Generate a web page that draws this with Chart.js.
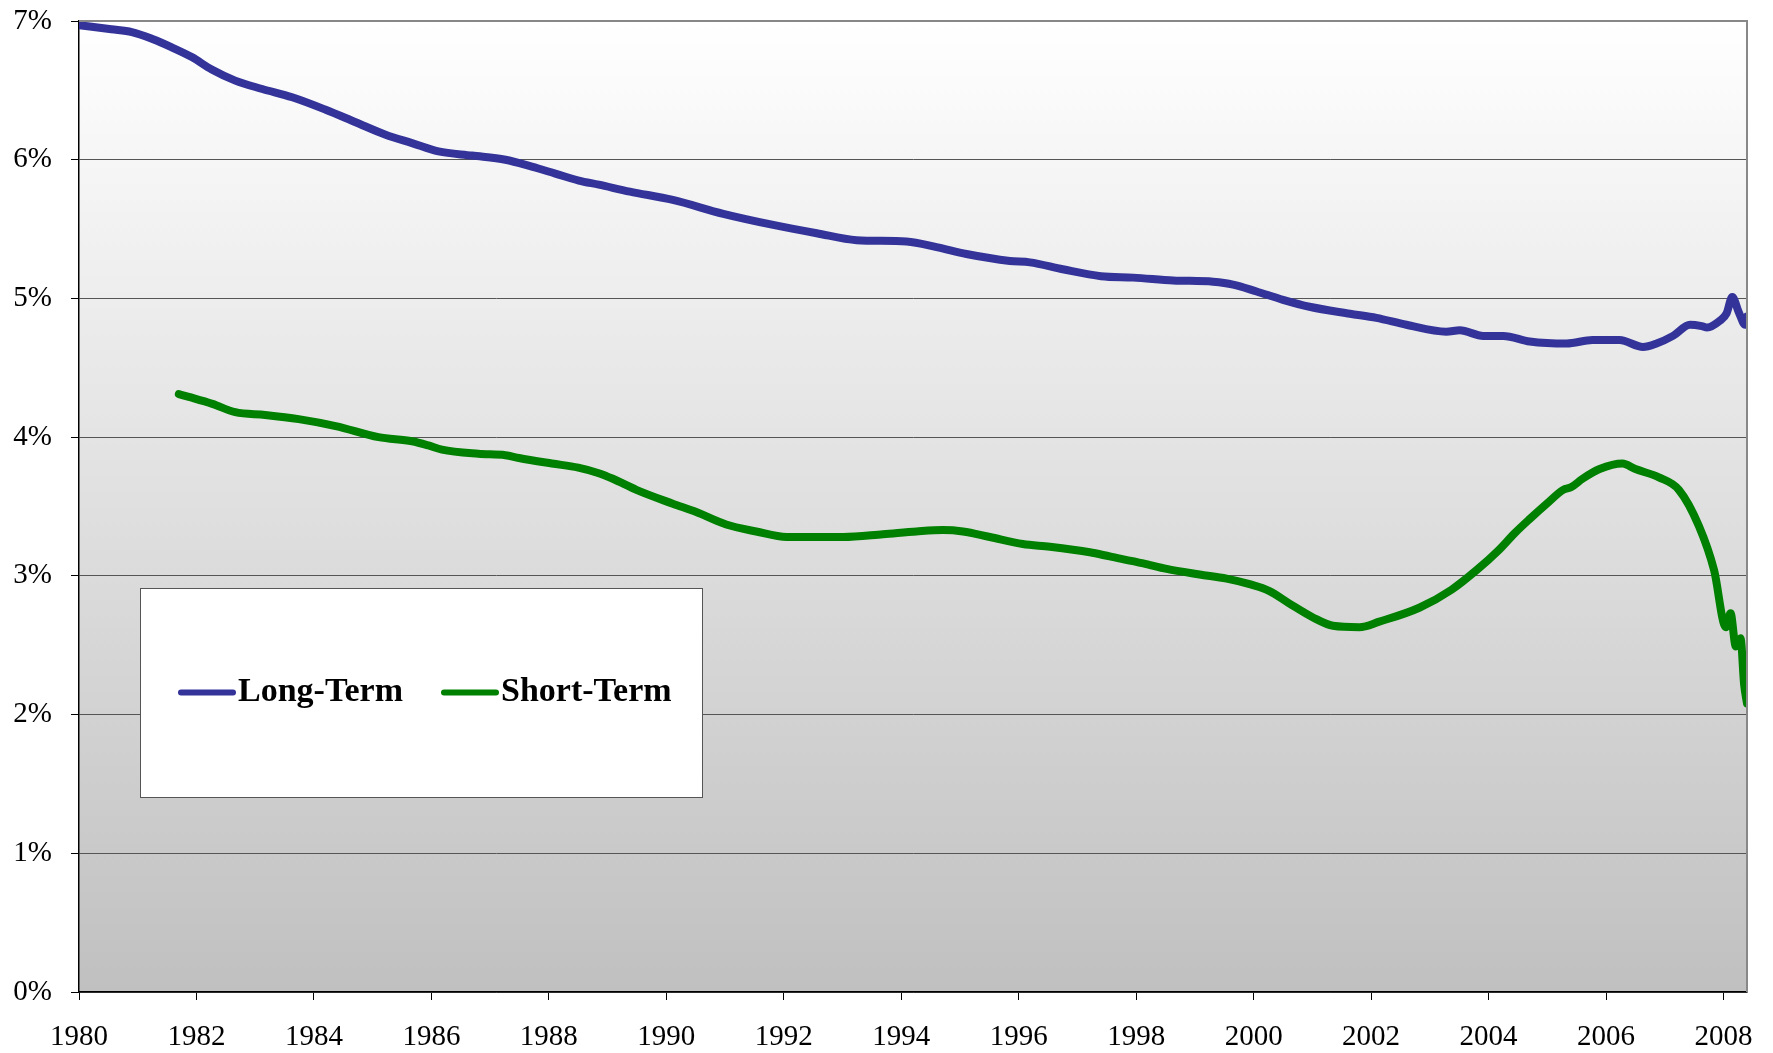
<!DOCTYPE html>
<html>
<head>
<meta charset="utf-8">
<title>Long-Term vs Short-Term</title>
<script src="https://cdn.jsdelivr.net/npm/chart.js@4/dist/chart.umd.min.js"></script>
<style>
  html, body { margin: 0; padding: 0; background: #ffffff; }
  #wrap { width: 1773px; height: 1053px; }
</style>
</head>
<body>
<div id="wrap"><canvas id="chart" width="1773" height="1053"></canvas></div>
<script>
"use strict";

// data (year, percent)
let longYears = [1980.00, 1980.55, 1980.90, 1981.25, 1981.58, 1981.92, 1982.26, 1982.66, 1983.12, 1983.63,
  1984.20, 1984.71, 1985.22, 1985.67, 1986.12, 1986.69, 1987.26, 1987.71, 1988.11, 1988.51,
  1988.85, 1989.38, 1990.11, 1990.97, 1991.82, 1992.56, 1993.24, 1994.09, 1994.60, 1995.11,
  1995.85, 1996.19, 1996.75, 1997.40, 1997.95, 1998.63, 1999.31, 1999.65, 2000.05, 2000.50,
  2000.95, 2001.64, 2002.09, 2002.60, 2003.28, 2003.51, 2003.91, 2004.25, 2004.70, 2005.33,
  2005.77, 2006.23, 2006.63, 2006.86, 2007.14, 2007.43, 2007.63, 2007.72, 2007.94, 2008.05,
  2008.15, 2008.26, 2008.37, 2008.40];
let longValues = [6.97, 6.94, 6.92, 6.87, 6.81, 6.74, 6.65, 6.57, 6.51, 6.45,
  6.36, 6.27, 6.18, 6.12, 6.06, 6.03, 6.00, 5.95, 5.90, 5.85,
  5.82, 5.77, 5.71, 5.61, 5.53, 5.47, 5.42, 5.41, 5.37, 5.32,
  5.27, 5.26, 5.21, 5.16, 5.15, 5.13, 5.12, 5.10, 5.05, 4.99,
  4.94, 4.89, 4.86, 4.81, 4.76, 4.77, 4.73, 4.73, 4.69, 4.675,
  4.70, 4.70, 4.65, 4.675, 4.73, 4.81, 4.80, 4.79, 4.84, 4.89,
  5.01, 4.90, 4.81, 4.87];

let shortYears = [1981.70, 1981.87, 1982.27, 1982.66, 1983.17, 1983.74, 1984.37, 1985.10, 1985.67, 1985.95,
  1986.18, 1986.80, 1987.26, 1987.49, 1988.05, 1988.50, 1988.85, 1989.09, 1989.49, 1990.11,
  1990.51, 1991.02, 1991.53, 1992.05, 1992.44, 1993.01, 1993.69, 1994.26, 1994.71, 1995.05,
  1995.51, 1996.07, 1996.53, 1997.21, 1997.55, 1998.12, 1998.52, 1999.08, 1999.54, 1999.93,
  2000.27, 2000.61, 2001.01, 2001.35, 2001.80, 2002.14, 2002.82, 2003.37, 2003.82, 2004.16,
  2004.45, 2004.70, 2004.99, 2005.27, 2005.41, 2005.60, 2005.89, 2006.28, 2006.50, 2006.90,
  2007.24, 2007.58, 2007.84, 2008.04, 2008.12, 2008.21, 2008.29, 2008.35, 2008.40];
let shortValues = [4.31, 4.29, 4.24, 4.18, 4.16, 4.13, 4.08, 4.00, 3.97, 3.94,
  3.91, 3.88, 3.87, 3.85, 3.81, 3.78, 3.74, 3.70, 3.62, 3.52,
  3.46, 3.37, 3.32, 3.28, 3.28, 3.28, 3.30, 3.32, 3.33, 3.32,
  3.28, 3.23, 3.21, 3.17, 3.14, 3.09, 3.05, 3.01, 2.98, 2.94,
  2.89, 2.80, 2.70, 2.64, 2.63, 2.67, 2.77, 2.90, 3.05, 3.18,
  3.31, 3.41, 3.52, 3.62, 3.64, 3.70, 3.77, 3.81, 3.77, 3.71,
  3.62, 3.36, 3.04, 2.63, 2.73, 2.49, 2.55, 2.22, 2.08];

let seriesNames = ["Long-Term", "Short-Term"];
let seriesColors = ["#333399", "#008000"];

let yearTicks = [1980, 1982, 1984, 1986, 1988, 1990, 1992, 1994, 1996, 1998, 2000, 2002, 2004, 2006, 2008];
let percentTicks = [0, 1, 2, 3, 4, 5, 6, 7];

function toPoints(xs, ys) {
  let pts = [];
  for (let i = 0; i < xs.length; i++) {
    pts.push({ x: xs[i], y: ys[i] });
  }
  return pts;
}

let serif = "'Liberation Serif', 'Times New Roman', serif";

// gradient behind the plot, plus grey top/right frame
let plotBackground = {
  id: "plotBackground",
  beforeDraw(chart) {
    let ctx = chart.ctx;
    let a = chart.chartArea;
    let g = ctx.createLinearGradient(0, a.top, 0, a.bottom);
    g.addColorStop(0, "#ffffff");
    g.addColorStop(1, "#c0c0c0");
    ctx.save();
    ctx.fillStyle = g;
    ctx.fillRect(a.left, a.top, a.right - a.left, a.bottom - a.top);
    ctx.restore();
  },
  afterDraw(chart) {
    let ctx = chart.ctx;
    let a = chart.chartArea;
    ctx.save();
    ctx.strokeStyle = "#888888";
    ctx.lineWidth = 2;
    ctx.beginPath();
    ctx.moveTo(a.left, a.top);
    ctx.lineTo(a.right, a.top);
    ctx.lineTo(a.right, a.bottom);
    ctx.stroke();
    ctx.restore();
  }
};

// boxed legend sitting inside the plot
let boxLegend = {
  id: "boxLegend",
  afterDatasetsDraw(chart) {
    let ctx = chart.ctx;
    let box = { x: 140, y: 588, w: 562, h: 209 };
    ctx.save();
    ctx.fillStyle = "#ffffff";
    ctx.fillRect(box.x, box.y, box.w, box.h);
    ctx.strokeStyle = "#555555";
    ctx.lineWidth = 1;
    ctx.strokeRect(box.x + 0.5, box.y + 0.5, box.w, box.h);

    let cy = box.y + box.h / 2;
    let starts = [181, 444];
    ctx.font = "bold 34px " + serif;
    ctx.textBaseline = "middle";
    ctx.textAlign = "left";
    chart.data.datasets.forEach(function (ds, i) {
      let x0 = starts[i];
      ctx.strokeStyle = ds.borderColor;
      ctx.lineWidth = 6;
      ctx.lineCap = "round";
      ctx.beginPath();
      ctx.moveTo(x0, cy);
      ctx.lineTo(x0 + 52, cy);
      ctx.stroke();
      ctx.fillStyle = "#000000";
      ctx.fillText(ds.label, x0 + 57, cy);
    });
    ctx.restore();
  }
};

let ctx = document.getElementById("chart").getContext("2d");

let myChart = new Chart(ctx, {
  type: "line",
  data: {
    datasets: [
      {
        label: seriesNames[0],
        data: toPoints(longYears, longValues),
        borderColor: seriesColors[0],
        backgroundColor: seriesColors[0],
        borderWidth: 8,
        pointRadius: 0,
        cubicInterpolationMode: "monotone",
        borderCapStyle: "round",
        borderJoinStyle: "round"
      },
      {
        label: seriesNames[1],
        data: toPoints(shortYears, shortValues),
        borderColor: seriesColors[1],
        backgroundColor: seriesColors[1],
        borderWidth: 8,
        pointRadius: 0,
        cubicInterpolationMode: "monotone",
        borderCapStyle: "round",
        borderJoinStyle: "round"
      }
    ]
  },
  options: {
    responsive: false,
    animation: false,
    layout: { padding: { top: 21, right: 26, left: 0, bottom: 0 } },
    plugins: {
      legend: { display: false },
      tooltip: { enabled: false }
    },
    scales: {
      x: {
        type: "linear",
        min: 1980,
        max: 2008.4,
        afterFit(scale) {
          scale.height = 61;
          scale.paddingLeft = 0;
          scale.paddingRight = 0;
        },
        afterBuildTicks(scale) {
          scale.ticks = yearTicks.map(function (v) { return { value: v }; });
        },
        ticks: {
          autoSkip: false,
          maxRotation: 0,
          padding: 20,
          color: "#000000",
          font: { family: serif, size: 29 },
          callback: function (value) { return String(value); }
        },
        grid: {
          drawOnChartArea: false,
          drawTicks: true,
          tickLength: 8,
          tickColor: "#000000"
        },
        border: { color: "#000000", width: 1.5 }
      },
      y: {
        min: 0,
        max: 7,
        afterFit(scale) {
          scale.width = 79;
          // keep the top label from pushing the plot down
          scale.paddingTop = 0;
          scale.paddingBottom = 0;
        },
        afterBuildTicks(scale) {
          scale.ticks = percentTicks.map(function (v) { return { value: v }; });
        },
        ticks: {
          padding: 19,
          color: "#000000",
          font: { family: serif, size: 29 },
          callback: function (value) { return value + "%"; }
        },
        grid: {
          color: "#555555",
          lineWidth: 1,
          tickLength: 8,
          tickColor: "#000000"
        },
        border: { color: "#000000", width: 1.5 }
      }
    }
  },
  plugins: [plotBackground, boxLegend]
});
</script>
</body>
</html>
